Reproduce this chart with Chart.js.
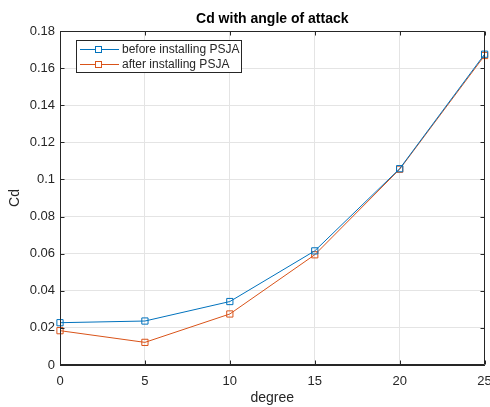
<!DOCTYPE html>
<html>
<head>
<meta charset="utf-8">
<script src="https://cdn.jsdelivr.net/npm/chart.js@4.4.1/dist/chart.umd.min.js"></script>
<style>
  html, body { margin: 0; padding: 0; background: #fff; }
  #wrap { width: 490px; height: 407px; position: relative; }
</style>
</head>
<body>
<div id="wrap"><canvas id="c" width="490" height="407"></canvas></div>
<script>
// ---- data ----
const degrees = [0, 5, 10, 15, 20, 25];
const cdBefore = [0.0228, 0.0237, 0.0342, 0.0615, 0.1058, 0.1675];
const cdAfter  = [0.0185, 0.0122, 0.0275, 0.0594, 0.1055, 0.1668];
const seriesNames = ['before installing PSJA', 'after installing PSJA'];
const xTickLabels = ['0', '5', '10', '15', '20', '25'];
const yTickLabels = ['0', '0.02', '0.04', '0.06', '0.08', '0.1', '0.12', '0.14', '0.16', '0.18'];
const titleText = 'Cd with angle of attack';
const xTitle = 'degree';
const yTitle = 'Cd';

const BLUE = '#0072BD';
const ORANGE = '#D95319';
const AXIS = '#262626';
const GRID = '#e4e4e4';
const FONT = '"Liberation Sans", Arial, Helvetica, sans-serif';

const toPts = (ys) => degrees.map((d, i) => ({ x: d, y: ys[i] }));

const matlabDecor = {
  id: 'matlabDecor',
  afterDatasetsDraw(chart) {
    const { ctx, chartArea: a, scales } = chart;
    const xs = scales.x, ys = scales.y;
    ctx.save();
    ctx.strokeStyle = AXIS;
    ctx.lineWidth = 1;
    const L = Math.round(a.left) + 0.5, R = Math.round(a.right) - 0.5;
    const T = Math.round(a.top) + 0.5, B = Math.round(a.bottom) - 0.5;
    ctx.beginPath();
    ctx.moveTo(L, T); ctx.lineTo(R, T); ctx.lineTo(R, B); ctx.lineTo(L, B); ctx.lineTo(L, T);
    degrees.forEach((d) => {
      const px = Math.round(xs.getPixelForValue(d)) + 0.5;
      ctx.moveTo(px, B); ctx.lineTo(px, B - 4);
      ctx.moveTo(px, T); ctx.lineTo(px, T + 4);
    });
    yTickLabels.forEach((t) => {
      const py = Math.round(ys.getPixelForValue(parseFloat(t))) + 0.5;
      ctx.moveTo(L, py); ctx.lineTo(L + 4, py);
      ctx.moveTo(R, py); ctx.lineTo(R - 4, py);
    });
    ctx.stroke();
    ctx.restore();
  },
  afterDraw(chart) {
    const { ctx, chartArea: a } = chart;
    ctx.save();
    ctx.fillStyle = '#000';
    ctx.font = 'bold 14px ' + FONT;
    ctx.textAlign = 'center';
    ctx.textBaseline = 'alphabetic';
    ctx.fillText(titleText, (a.left + a.right) / 2, 22.5);
    ctx.fillStyle = AXIS;
    ctx.font = '14px ' + FONT;
    ctx.textBaseline = 'middle';
    ctx.fillText(xTitle, (a.left + a.right) / 2, 398);
    ctx.save();
    ctx.translate(15, (a.top + a.bottom) / 2);
    ctx.rotate(-Math.PI / 2);
    ctx.fillText(yTitle, 0, 0);
    ctx.restore();
    // legend
    const bx = 76.5, by = 40.5, bw = 165, bh = 32;
    ctx.fillStyle = '#fff';
    ctx.fillRect(bx, by, bw, bh);
    ctx.strokeStyle = AXIS;
    ctx.lineWidth = 1;
    ctx.strokeRect(bx, by, bw, bh);
    const rows = [{ c: BLUE, y: 49.5 }, { c: ORANGE, y: 64.5 }];
    ctx.font = '12px ' + FONT;
    ctx.textAlign = 'left';
    rows.forEach((r, i) => {
      ctx.strokeStyle = r.c;
      ctx.beginPath();
      ctx.moveTo(80, r.y); ctx.lineTo(119, r.y);
      ctx.stroke();
      ctx.fillStyle = '#fff';
      ctx.fillRect(95.5, r.y - 3, 6, 6);
      ctx.strokeRect(95.5, r.y - 3, 6, 6);
      ctx.fillStyle = AXIS;
      ctx.fillText(seriesNames[i], 122, r.y + 0.5);
    });
    ctx.restore();
  }
};

new Chart(document.getElementById('c'), {
  type: 'line',
  data: {
    datasets: [
      { label: seriesNames[0], data: toPts(cdBefore), borderColor: BLUE, backgroundColor: 'rgba(255,255,255,0)',
        borderWidth: 1, pointStyle: 'rect', pointRadius: 4.4, pointBorderWidth: 1, pointBorderColor: BLUE,
        pointBackgroundColor: 'rgba(255,255,255,0)', tension: 0, clip: false },
      { label: seriesNames[1], data: toPts(cdAfter), borderColor: ORANGE, backgroundColor: 'rgba(255,255,255,0)',
        borderWidth: 1, pointStyle: 'rect', pointRadius: 4.4, pointBorderWidth: 1, pointBorderColor: ORANGE,
        pointBackgroundColor: 'rgba(255,255,255,0)', tension: 0, clip: false }
    ]
  },
  options: {
    responsive: false,
    animation: false,
    devicePixelRatio: 1,
    layout: { padding: { top: 31, right: 4, left: 0, bottom: 0 } },
    plugins: { legend: { display: false }, title: { display: false }, tooltip: { enabled: false } },
    scales: {
      x: {
        type: 'linear', min: 0, max: 25,
        afterBuildTicks: (s) => { s.ticks = degrees.map(v => ({ value: v })); },
        ticks: { color: AXIS, font: { family: FONT, size: 13 }, padding: 9, maxRotation: 0,
                 callback: (v) => xTickLabels[degrees.indexOf(v)] },
        grid: { color: GRID, drawTicks: false, lineWidth: 1 },
        border: { display: true, color: AXIS, width: 1 },
        afterFit: (s) => { s.height = 42; s.paddingLeft = 0; s.paddingRight = 0; }
      },
      y: {
        type: 'linear', min: 0, max: 0.18,
        afterBuildTicks: (s) => { s.ticks = yTickLabels.map(t => ({ value: parseFloat(t) })); },
        ticks: { color: AXIS, font: { family: FONT, size: 13 }, padding: 5,
                 callback: (v, i) => yTickLabels[i] },
        grid: { color: GRID, drawTicks: false, lineWidth: 1 },
        border: { display: true, color: AXIS, width: 1 },
        afterFit: (s) => { s.width = 60; s.paddingTop = 0; s.paddingBottom = 0; }
      }
    }
  },
  plugins: [matlabDecor]
});
</script>
</body>
</html>
